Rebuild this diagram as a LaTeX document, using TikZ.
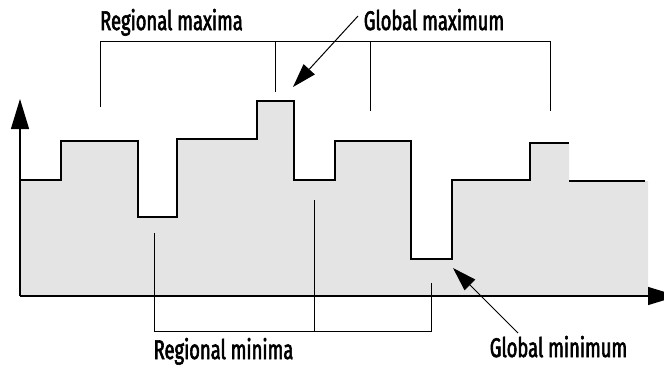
\documentclass[tikz,border=0pt]{standalone}
\usepackage{fontspec}
\setmainfont{Fira Sans}[FakeStretch=0.68, FakeBold=2.2]
\usetikzlibrary{arrows.meta}
\definecolor{fillgray}{RGB}{228,228,228}
\begin{document}
\begin{tikzpicture}[x=1pt,y=-1pt, line width=1.2pt,
  lbl/.style={font=\fontsize{27}{27}\selectfont, inner sep=0pt, anchor=base},
  bigarrow/.style={-{Triangle[length=30pt,width=18pt]}},
  ptr/.style={line width=1pt, -{Triangle[length=24pt,width=15pt]}},
  bracket/.style={line width=1pt}]
\useasboundingbox (0,0) rectangle (664,365);
\clip (0,0) rectangle (664,365);
% filled region
\fill[fillgray] (20,296) -- (20,180) -- (61,180) -- (61,141) -- (138,141) -- (138,217)
  -- (177,217) -- (177,139) -- (257,139) -- (257,101) -- (294,101) -- (294,180)
  -- (335,180) -- (335,141) -- (411,141) -- (411,259) -- (452,259) -- (452,180)
  -- (530,180) -- (530,143) -- (569,143) -- (569,181) -- (648,181) -- (648,296) -- cycle;
% profile
\draw (20,180) -- (61,180) -- (61,141) -- (138,141) -- (138,217) -- (177,217)
  -- (177,139) -- (257,139) -- (257,101) -- (294,101) -- (294,180) -- (335,180)
  -- (335,141) -- (411,141) -- (411,259) -- (452,259) -- (452,180) -- (530,180)
  -- (530,143) -- (569,143);
\coordinate (r0) at (569,181);
\coordinate (r1) at (645,181);
\draw (r0) -- (r1);
% axes
\coordinate (o) at (20,296);
\coordinate (ytip) at (20,99);
\coordinate (xtip) at (678,296);
\draw[bigarrow] (o) -- (ytip);
\draw[bigarrow] (o) -- (xtip);
% regional maxima bracket
\coordinate (ma1) at (100,107);
\coordinate (ma2) at (275,92);
\coordinate (ma3) at (370,111);
\coordinate (ma4) at (550,111);
\draw[bracket] (ma1) -- (100,41) -- (550,41) -- (ma4);
\draw[bracket] (ma2) -- (275,41);
\draw[bracket] (ma3) -- (370,41);
% regional minima bracket
\coordinate (mi1) at (154,233);
\coordinate (mi2) at (314,200);
\coordinate (mi3) at (431,283);
\draw[bracket] (mi1) -- (154,331) -- (431,331) -- (mi3);
\draw[bracket] (mi2) -- (314,331);
% labels
\node[lbl] (lmax) at (171.5,30) {Regional maxima};
\node[lbl] (lgmax) at (434,30) {Global maximum};
\node[lbl] (lmin) at (223.5,359) {Regional minima};
\node[lbl] (lgmin) at (558.5,357) {Global minimum};
% pointers
\coordinate (gmaxs) at (358,16);
\coordinate (gmaxt) at (293,87);
\coordinate (gmins) at (518,333);
\coordinate (gmint) at (453,268);
\draw[ptr] (gmaxs) -- (gmaxt);
\draw[ptr] (gmins) -- (gmint);
\end{tikzpicture}
\end{document}
